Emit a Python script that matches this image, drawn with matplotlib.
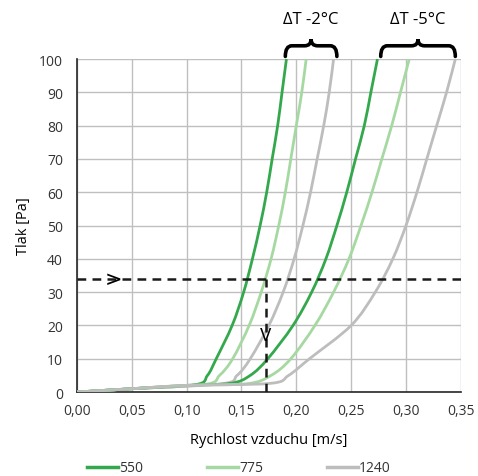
import matplotlib
matplotlib.use('Agg')
import matplotlib.pyplot as plt
from matplotlib.path import Path
from matplotlib.patches import PathPatch
from matplotlib.lines import Line2D

plt.rcParams['font.family'] = ['Open Sans', 'DejaVu Sans']

# ---- data ----
# set dT -2 C (steep curves)
x550_a = [0, 0.05, 0.108, 0.119, 0.127, 0.1415, 0.152, 0.160, 0.167, 0.173, 0.178, 0.183, 0.187, 0.191]
y550_a = [0, 1, 2.2, 5, 10, 20, 30, 40, 50, 60, 70, 80, 90, 100]
x775_a = [0, 0.05, 0.117, 0.130, 0.142, 0.157, 0.168, 0.177, 0.184, 0.190, 0.195, 0.200, 0.205, 0.209]
y775_a = [0, 1, 2.3, 5, 10, 20, 30, 40, 50, 60, 70, 80, 90, 100]
x1240_a = [0, 0.05, 0.132, 0.146, 0.158, 0.175, 0.188, 0.198, 0.206, 0.213, 0.219, 0.225, 0.230, 0.234]
y1240_a = [0, 1, 2.5, 5, 10, 20, 30, 40, 50, 60, 70, 80, 90, 100]
# set dT -5 C
x550_b = [0, 0.05, 0.10, 0.140, 0.158, 0.174, 0.197, 0.214, 0.227, 0.237, 0.246, 0.254, 0.262, 0.268, 0.274]
y550_b = [0, 1, 2, 2.6, 5, 10, 20, 30, 40, 50, 60, 70, 80, 90, 100]
x775_b = [0, 0.05, 0.10, 0.155, 0.177, 0.195, 0.217, 0.234, 0.248, 0.259, 0.269, 0.278, 0.287, 0.295, 0.303]
y775_b = [0, 1, 2, 2.5, 5, 10, 20, 30, 40, 50, 60, 70, 80, 90, 100]
x1240_b = [0, 0.05, 0.10, 0.176, 0.193, 0.212, 0.250, 0.272, 0.288, 0.300, 0.310, 0.319, 0.328, 0.337, 0.345]
y1240_b = [0, 1, 2, 2.6, 5, 10, 20, 30, 40, 50, 60, 70, 80, 90, 100]

labels = ['550', '775', '1240']
x_ticks = [0, 0.05, 0.10, 0.15, 0.20, 0.25, 0.30, 0.35]
y_ticks = list(range(0, 101, 10))

p_work = 34          # working pressure (dashed line)
v_work = 0.172       # resulting air speed
brace_a = (0.190, 0.237, 'ΔT -2°C')
brace_b = (0.277, 0.345, 'ΔT -5°C')

col_550 = '#34a84c'
col_775 = '#a6d9a2'
col_1240 = '#bdbdbd'
lw = 2.0

fig = plt.figure(figsize=(4.78, 4.77), dpi=100)
ax = fig.add_axes([0.161, 0.176, 0.803, 0.698])
ax.set_xlim(0, 0.35)
ax.set_ylim(0, 100)


def smooth_line(ax, xs, ys, color):
    # Excel-like smoothed line: Catmull-Rom through the points, drawn as bezier
    pts = [ax.transData.transform((x, y)) for x, y in zip(xs, ys)]
    pts = [ax.transAxes.inverted().transform(p) for p in pts]
    verts, codes = [tuple(pts[0])], [Path.MOVETO]
    n = len(pts)
    for i in range(n - 1):
        p0 = pts[i - 1] if i > 0 else pts[i]
        p1, p2 = pts[i], pts[i + 1]
        p3 = pts[i + 2] if i + 2 < n else pts[i + 1]
        c1 = p1 + (p2 - p0) / 6.0
        c2 = p2 - (p3 - p1) / 6.0
        verts += [tuple(c1), tuple(c2), tuple(p2)]
        codes += [Path.CURVE4] * 3
    ax.add_patch(PathPatch(Path(verts, codes), fc='none', ec=color, lw=lw,
                           transform=ax.transAxes, zorder=3, capstyle='butt'))


smooth_line(ax, x550_a, y550_a, col_550)
smooth_line(ax, x775_a, y775_a, col_775)
smooth_line(ax, x1240_a, y1240_a, col_1240)
smooth_line(ax, x550_b, y550_b, col_550)
smooth_line(ax, x775_b, y775_b, col_775)
smooth_line(ax, x1240_b, y1240_b, col_1240)

# dashed reading lines
ax.plot([0, 0.35], [p_work, p_work], '--', color='#1a1a1a', lw=1.8, dashes=(3.5, 2.5), zorder=4)
ax.plot([v_work, v_work], [0, p_work], '--', color='#1a1a1a', lw=1.8, dashes=(3.5, 2.5), zorder=4)
ax.text(0.033, p_work, '>', ha='center', va='center', fontsize=15, family='DejaVu Sans', zorder=5)
ax.text(v_work, 17, 'V', ha='center', va='center', fontsize=12, family='DejaVu Sans', zorder=5)

ax.set_xticks(x_ticks)
ax.set_xticklabels(['{:.2f}'.format(v).replace('.', ',') for v in x_ticks])
ax.set_yticks(y_ticks)
ax.tick_params(length=0, labelsize=10, colors='#333333')
ax.tick_params(axis='x', pad=8)
ax.tick_params(axis='y', pad=10)
ax.grid(True, color='#bfbfbf', lw=1.0)
ax.set_axisbelow(True)
for s in ['top', 'right']:
    ax.spines[s].set_visible(False)
for s in ['left', 'bottom']:
    ax.spines[s].set_color('#262626')
    ax.spines[s].set_linewidth(1.2)

ax.set_xlabel('Rychlost vzduchu [m/s]', fontsize=10.5, labelpad=10)
ax.set_ylabel('Tlak [Pa]', fontsize=10.5, labelpad=6)


def brace(ax, x0, x1, text):
    yb, ym, yt = 100.8, 104.0, 106.0
    r = 0.006
    xc = (x0 + x1) / 2
    verts = [(x0, yb), (x0, ym), (x0 + r, ym),
             (xc - r, ym), (xc, ym), (xc, yt),
             (xc, ym), (xc + r, ym),
             (x1 - r, ym), (x1, ym), (x1, yb)]
    codes = [Path.MOVETO, Path.CURVE3, Path.CURVE3,
             Path.LINETO, Path.CURVE3, Path.CURVE3,
             Path.CURVE3, Path.CURVE3,
             Path.LINETO, Path.CURVE3, Path.CURVE3]
    ax.add_patch(PathPatch(Path(verts, codes), fc='none', ec='black',
                           lw=2.6, clip_on=False, capstyle='round'))
    ax.text(xc, 112, text, ha='center', va='center', fontsize=12, clip_on=False)


brace(ax, *brace_a)
brace(ax, *brace_b)

handles = [Line2D([], [], color=c, lw=2.5) for c in (col_550, col_775, col_1240)]
fig.legend(handles, labels, loc='center', bbox_to_anchor=(0.5, 0.017), ncol=3,
           frameon=False, fontsize=10, handlelength=2.2, handletextpad=0.1,
           columnspacing=4.6, labelcolor='#333333')

fig.savefig('out.png', dpi=100)
